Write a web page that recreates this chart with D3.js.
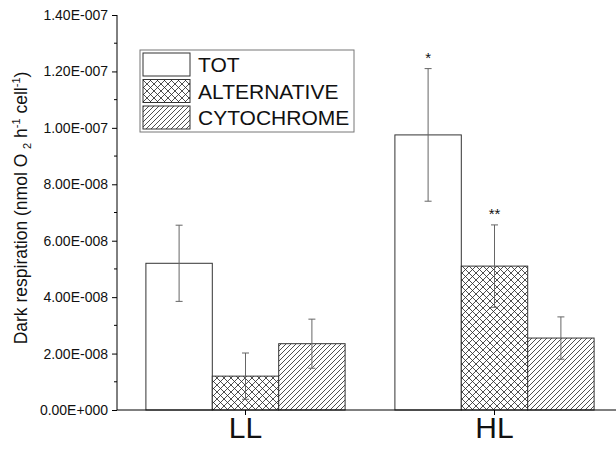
<!DOCTYPE html>
<html>
<head>
<meta charset="utf-8">
<script src="https://cdn.jsdelivr.net/npm/d3@7"></script>
<style>
body { margin: 0; background: #fff; }
svg { font-family: Arial, "Liberation Sans", sans-serif; }
</style>
</head>
<body>
<svg id="svg" width="616" height="450"></svg>
<script>
var groups = ['LL', 'HL'];
var series = ['TOT', 'ALTERNATIVE', 'CYTOCHROME'];
var values = {
    TOT: [52.0e-9, 97.5e-9],
    ALTERNATIVE: [12.0e-9, 51.0e-9],
    CYTOCHROME: [23.5e-9, 25.5e-9]
};
var errors = {
    TOT: [13.5e-9, 23.5e-9],
    ALTERNATIVE: [8.2e-9, 14.6e-9],
    CYTOCHROME: [8.7e-9, 7.5e-9]
};
var stars = { TOT: ['', '*'], ALTERNATIVE: ['', '**'], CYTOCHROME: ['', ''] };
var yTicks = [0, 2e-8, 4e-8, 6e-8, 8e-8, 1e-7, 1.2e-7, 1.4e-7];
var yTickLabels = ['0.00E+000', '2.00E-008', '4.00E-008', '6.00E-008', '8.00E-008', '1.00E-007', '1.20E-007', '1.40E-007'];

var svg = d3.select('svg');

var defs = svg.append('defs');
var cross = defs.append('pattern').attr('id', 'cross')
    .attr('patternUnits', 'userSpaceOnUse').attr('width', 7).attr('height', 7);
cross.append('rect').attr('width', 7).attr('height', 7).attr('fill', 'white');
cross.append('path').attr('d', 'M0,0L7,7M7,0L0,7M-1,6L1,8M6,-1L8,1M-1,1L1,-1M6,8L8,6')
    .attr('stroke', '#222').attr('stroke-width', 0.8);
var diag = defs.append('pattern').attr('id', 'diag')
    .attr('patternUnits', 'userSpaceOnUse').attr('width', 5).attr('height', 5);
diag.append('rect').attr('width', 5).attr('height', 5).attr('fill', 'white');
diag.append('path').attr('d', 'M0,5L5,0M-1,1L1,-1M4,6L6,4')
    .attr('stroke', '#222').attr('stroke-width', 0.8);
var fills = { TOT: 'white', ALTERNATIVE: 'url(#cross)', CYTOCHROME: 'url(#diag)' };

var y = d3.scaleLinear().domain([0, 1.4e-7]).range([410, 15]);
var x0 = d3.scaleBand().domain(groups).range([121, 619]);
var bw = x0.bandwidth();
var x1 = d3.scaleBand().domain(series).range([0.1 * bw, 0.9 * bw]);

// bars
series.forEach(function (s) {
    var g = svg.append('g');
    g.selectAll('rect')
        .data(groups)
        .enter()
        .append('rect')
        .attr('x', function (d) { return x0(d) + x1(s); })
        .attr('y', function (d, i) { return y(values[s][i]); })
        .attr('width', x1.bandwidth())
        .attr('height', function (d, i) { return y(0) - y(values[s][i]); })
        .attr('fill', fills[s])
        .attr('stroke', '#333')
        .attr('stroke-width', 1);
});

// error bars
series.forEach(function (s) {
    groups.forEach(function (d, i) {
        var cx = x0(d) + x1(s) + x1.bandwidth() / 2;
        var top = y(values[s][i] + errors[s][i]);
        var bot = y(values[s][i] - errors[s][i]);
        var p = 'M' + cx + ',' + top + 'V' + bot +
            'M' + (cx - 3.5) + ',' + top + 'H' + (cx + 3.5) +
            'M' + (cx - 3.5) + ',' + bot + 'H' + (cx + 3.5);
        svg.append('path').attr('d', p).attr('stroke', '#666').attr('stroke-width', 1).attr('fill', 'none');
        if (stars[s][i]) {
            svg.append('text')
                .text(stars[s][i])
                .attr('x', cx)
                .attr('y', top - 6)
                .attr('text-anchor', 'middle')
                .attr('font-size', 15)
                .attr('fill', '#111');
        }
    });
});

// y axis
var yAxis = d3.axisLeft(y).tickValues(yTicks).tickSize(5).tickPadding(4)
    .tickFormat(function (d, i) { return yTickLabels[i]; });
var ya = svg.append('g').attr('transform', 'translate(117,0)').call(yAxis);
ya.select('.domain').attr('d', 'M0,15V410');
ya.selectAll('text').attr('font-size', 14).attr('font-family', 'Arial, "Liberation Sans", sans-serif').attr('fill', '#111');
var minor = d3.range(1e-8, 1.4e-7, 2e-8);
ya.selectAll('.minor').data(minor).enter().append('line')
    .attr('x1', -3).attr('x2', 0)
    .attr('y1', function (d) { return y(d); }).attr('y2', function (d) { return y(d); })
    .attr('stroke', '#000');

// x axis
var xAxis = d3.axisBottom(x0).tickSize(5).tickSizeOuter(0).tickPadding(2);
var xa = svg.append('g').attr('transform', 'translate(0,410)').call(xAxis);
xa.select('.domain').attr('d', 'M117,0H616');
xa.selectAll('text').attr('font-size', 30).attr('font-family', 'Arial, "Liberation Sans", sans-serif').attr('fill', '#111');

// y label
var yl = svg.append('text')
    .attr('transform', 'translate(27,208) rotate(-90)')
    .attr('text-anchor', 'middle')
    .attr('font-size', 17.5)
    .attr('fill', '#111');
yl.append('tspan').text('Dark respiration (nmol O ');
yl.append('tspan').text('2').attr('font-size', 11).attr('dy', 4);
yl.append('tspan').text(' h').attr('dy', -4);
yl.append('tspan').text('-1').attr('font-size', 11).attr('dy', -7);
yl.append('tspan').text(' cell').attr('dy', 7);
yl.append('tspan').text('-1').attr('font-size', 11).attr('dy', -7);
yl.append('tspan').text(')').attr('dy', 7);

// legend
var lg = svg.append('g');
lg.append('rect').attr('x', 140).attr('y', 50).attr('width', 214).attr('height', 82)
    .attr('fill', 'white').attr('stroke', '#777').attr('stroke-width', 1);
series.forEach(function (s, i) {
    var ry = 53 + i * 26.5;
    lg.append('rect').attr('x', 143).attr('y', ry).attr('width', 47).attr('height', 23)
        .attr('fill', fills[s]).attr('stroke', '#333');
    lg.append('text').text(s).attr('x', 198).attr('y', ry + 19)
        .attr('font-size', 21).attr('fill', '#111');
});
</script>
</body>
</html>
